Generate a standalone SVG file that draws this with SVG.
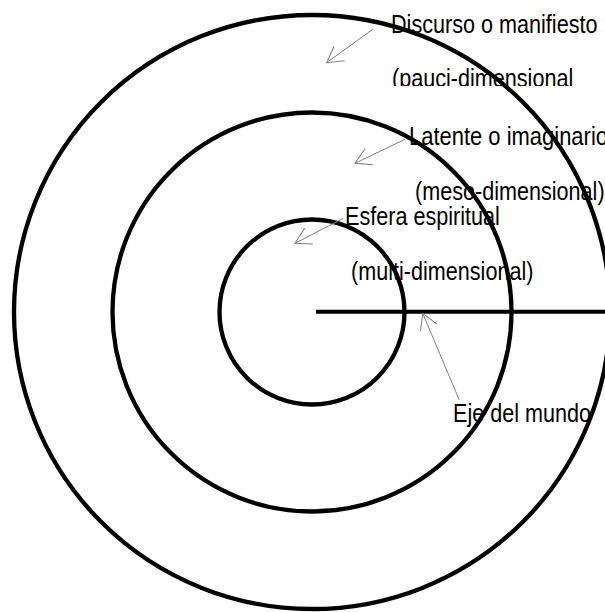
<svg xmlns="http://www.w3.org/2000/svg" width="605" height="612" viewBox="0 0 605 612">
  <style>
    .ring { fill: none; stroke: #000; stroke-width: 4.3; }
    .axis { stroke: #000; stroke-width: 4; }
    .conn { fill: none; stroke: #808080; stroke-width: 1; }
    .lbl { font-family: "Liberation Sans", Arial, sans-serif; font-size: 25px; fill: #000; }
  </style>
  <defs>
    <marker id="open" markerUnits="userSpaceOnUse" markerWidth="24" markerHeight="24" viewBox="-20 -12 24 24" refX="0" refY="0" orient="auto" overflow="visible">
      <path d="M-15.6,-9 L0,0 L-15.6,9" fill="none" stroke="#808080" stroke-width="1"/>
    </marker>
    <clipPath id="clipPauci">
      <rect x="380" y="60" width="225" height="26"/>
    </clipPath>
  </defs>

  <g id="outer-ring">
    <ellipse class="ring" cx="312" cy="312" rx="298" ry="297"/>
  </g>
  <g id="middle-ring">
    <circle class="ring" cx="312" cy="312" r="199.5"/>
  </g>
  <g id="inner-ring">
    <circle class="ring" cx="312" cy="312" r="92.5"/>
  </g>
  <g id="world-axis">
    <line class="axis" x1="316" y1="311.7" x2="605" y2="311.7"/>
  </g>

  <g id="connectors">
    <line class="conn" x1="372.7" y1="29.3" x2="326.7" y2="62.7" marker-end="url(#open)"/>
    <line class="conn" x1="405" y1="139.3" x2="355" y2="163.3" marker-end="url(#open)"/>
    <line class="conn" x1="343.3" y1="218.3" x2="295" y2="243.3" marker-end="url(#open)"/>
    <line class="conn" x1="459.3" y1="400" x2="422.7" y2="313.3" marker-end="url(#open)"/>
  </g>

  <g id="label-discurso">
    <text class="lbl" x="391" y="33.3" textLength="206.5" lengthAdjust="spacingAndGlyphs">Discurso o manifiesto</text>
    <text class="lbl" x="392" y="87" textLength="181.2" lengthAdjust="spacingAndGlyphs" clip-path="url(#clipPauci)">(pauci-dimensional</text>
  </g>
  <g id="label-latente">
    <text class="lbl" x="409" y="145" textLength="199" lengthAdjust="spacingAndGlyphs">Latente o imaginario</text>
    <text class="lbl" x="415" y="200" textLength="189.6" lengthAdjust="spacingAndGlyphs">(meso-dimensional)</text>
  </g>
  <g id="label-esfera">
    <text class="lbl" x="345" y="225" textLength="154.9" lengthAdjust="spacingAndGlyphs">Esfera espiritual</text>
    <text class="lbl" x="351" y="280" textLength="182.4" lengthAdjust="spacingAndGlyphs">(multi-dimensional)</text>
  </g>
  <g id="label-eje">
    <text class="lbl" x="453" y="421.7" textLength="138" lengthAdjust="spacingAndGlyphs">Eje del mundo</text>
  </g>
</svg>
